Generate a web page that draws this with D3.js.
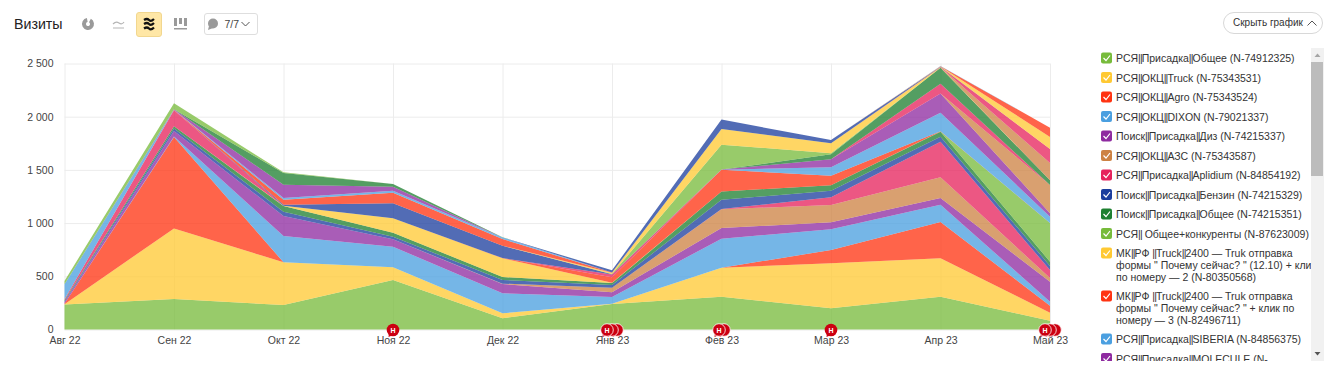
<!DOCTYPE html>
<html>
<head>
<meta charset="utf-8">
<script src="https://cdn.jsdelivr.net/npm/d3@7"></script>
<style>
  html, body { margin: 0; padding: 0; background: #fff; }
  svg { display: block; }
  text { font-family: "Liberation Sans", Arial, sans-serif; }
</style>
</head>
<body>
<svg id="chart" width="1340" height="378"></svg>
<script>
const months = ["Авг 22","Сен 22","Окт 22","Ноя 22","Дек 22","Янв 23","Фев 23","Мар 23","Апр 23","Май 23"];
const yTicks = [0,500,1000,1500,2000,2500];
const eventCounts = [0,0,0,1,0,3,2,1,0,3];

// values per stacked series, bottom to top, one number per month
const s01 = [235,287,230,465,105,240,308,199,308,83];
const s02 = [3,663,402,120,47,3,273,423,361,75];
const s03 = [3,860,0,0,0,0,0,125,341,66];
const s04 = [2,5,247,193,188,62,272,195,163,37];
const s05 = [15,50,188,70,88,45,101,65,63,188];
const s06 = [0,0,0,0,3,43,176,163,194,35];
const s07 = [0,0,0,0,0,0,2,73,335,75];
const s08 = [8,25,40,24,34,25,87,62,47,38];
const s09 = [8,20,53,38,28,18,78,50,47,40];
const s10 = [0,0,0,0,0,0,0,0,2,363];
const s11 = [0,0,3,135,176,4,0,0,0,0];
const s12 = [0,0,0,0,2,50,204,90,3,0];
const s13 = [0,0,0,0,0,0,1,79,172,60];
const s14 = [0,0,0,0,0,0,1,76,181,33];
const s15 = [0,0,0,0,0,0,0,0,0,265];
const s16 = [10,150,0,0,0,28,0,0,92,0];
const s17 = [0,0,10,141,116,2,0,0,0,0];
const s18 = [0,0,0,0,0,0,0,46,150,45];
const s19 = [0,0,0,0,0,2,234,10,0,0];
const s20 = [0,0,0,0,0,12,148,94,3,0];
const s21 = [0,2,47,99,63,1,0,0,0,0];
const s22 = [141,3,16,20,15,1,0,0,1,0];
const s23 = [0,5,125,37,0,0,0,0,0,0];
const s24 = [0,0,0,0,0,0,0,0,2,162];
const s25 = [0,0,0,0,0,0,0,0,2,131];
const s26 = [0,0,0,0,0,20,88,31,3,0];
const s27 = [0,1,110,25,1,0,0,0,0,0];
const s28 = [32,55,7,0,0,0,0,0,0,0];
const s29 = [0,0,0,0,0,0,0,0,2,114];
const s30 = [0,0,0,0,0,0,0,0,2,87];
const s31 = [0,0,0,0,0,0,0,0,3,0];
const allSeries = [s01,s02,s03,s04,s05,s06,s07,s08,s09,s10,s11,s12,s13,s14,s15,s16,s17,s18,s19,s20,s21,s22,s23,s24,s25,s26,s27,s28,s29,s30,s31];

const palette = ["#77bb3b","#ffc933","#ff3311","#4a9fe0","#8e2aa0","#cd8243","#e6225c","#1b3e9e","#1e8030"];

const legendLabels = [
  ["РСЯ||Присадка||Общее (N-74912325)"],
  ["РСЯ||ОКЦ||Truck (N-75343531)"],
  ["РСЯ||ОКЦ||Agro (N-75343524)"],
  ["РСЯ||ОКЦ||DIXON (N-79021337)"],
  ["Поиск||Присадка||Диз (N-74215337)"],
  ["РСЯ||ОКЦ||АЗС (N-75343587)"],
  ["РСЯ||Присадка||Aplidium (N-84854192)"],
  ["Поиск||Присадка||Бензин (N-74215329)"],
  ["Поиск||Присадка||Общее (N-74215351)"],
  ["РСЯ|| Общее+конкуренты (N-87623009)"],
  ["МК||РФ ||Truck||2400 — Truk отправка","формы \" Почему сейчас? \" (12.10) + клик","по номеру — 2 (N-80350568)"],
  ["МК||РФ ||Truck||2400 — Truk отправка","формы \" Почему сейчас? \" + клик по","номеру — 3 (N-82496711)"],
  ["РСЯ||Присадка||SIBERIA (N-84856375)"],
  ["РСЯ||Присадка||MOLECULE (N-"]
];

const svg = d3.select("#chart");

const x = d3.scalePoint().domain(months).range([64.5,1050]);
const y = d3.scaleLinear().domain([0,2500]).range([329.5,63.5]);

// grid + axes
const gridColor = "#ececec";
const yAxis = svg.append("g")
  .attr("transform","translate(64.5,0)")
  .call(d3.axisLeft(y).tickValues(yTicks).tickSize(-985.5).tickPadding(11)
    .tickFormat((d) => { return d >= 1000 ? d3.format(",")(d).replace(","," ") : d; }));
const xAxis = svg.append("g")
  .attr("transform","translate(0,329.5)")
  .call(d3.axisBottom(x).tickSize(-266).tickPadding(7));

[yAxis,xAxis].forEach((axis) => {
  axis.select(".domain").remove();
  axis.selectAll("line").attr("stroke",gridColor);
  axis.selectAll("text").attr("fill","#444").attr("font-size",10.5);
});

// stacked areas
const stack = d3.stack()
  .keys(d3.range(allSeries.length))
  .value((row,key) => { return allSeries[key][row]; });
const layers = stack(d3.range(months.length));

const area = d3.area()
  .x((d,i) => { return x(months[i]); })
  .y0((d) => { return y(d[0]); })
  .y1((d) => { return y(d[1]); });

svg.append("g").selectAll("path")
  .data(layers)
  .join("path")
  .attr("d",area)
  .attr("fill",(d,i) => { return palette[i % palette.length]; })
  .attr("fill-opacity",0.76);

// event markers under the axis line
const markers = svg.append("g");
months.forEach((month,i) => {
  const count = eventCounts[i];
  for(let n = count - 1; n >= 0; n--) {
    const cx = x(month) - (count - 1) * 2.5 + n * 5;
    markers.append("path")
      .attr("d",`M${cx - 4},${333} L${cx - 4.5},${337} L${cx},${335} Z`)
      .attr("fill","#cc0011");
    markers.append("circle")
      .attr("cx",cx).attr("cy",330).attr("r",6.3)
      .attr("fill","#cc0011")
      .attr("stroke","#fff").attr("stroke-width",count > 1 ? 0.8 : 0);
    if(n === 0) {
      markers.append("text")
        .attr("x",cx).attr("y",332.5)
        .attr("text-anchor","middle")
        .attr("font-size",7).attr("font-weight","bold")
        .attr("fill","#fff")
        .text("Н");
    }
  }
});

// toolbar
svg.append("text").attr("x",14).attr("y",29).attr("font-size",14.2).attr("fill","#222").text("Визиты");

const iconGrey = "#9a9a9a";
svg.append("path")
  .attr("d",d3.arc().innerRadius(2).outerRadius(6).startAngle(0.5).endAngle(6.1)())
  .attr("transform","translate(88,24)")
  .attr("fill",iconGrey);
svg.append("path").attr("d","M113,24 q3,-3 6,-1 t5,-1 M113,28 h11")
  .attr("fill","none").attr("stroke","#b5b5b5").attr("stroke-width",1.2);

svg.append("rect").attr("x",136.5).attr("y",12.5).attr("width",25).attr("height",24).attr("rx",2.5)
  .attr("fill","#ffe7a6").attr("stroke","#f2d78f");
svg.append("path").attr("d","M144,20 q3,-2 5,0 t5,-1 M144,24 q3,-2 5,0 t5,-1 M144,28.5 q3,-2 5,0 t5,-1")
  .attr("fill","none").attr("stroke","#111").attr("stroke-width",2.2);

svg.append("path").attr("d","M174,18 h3 v8 h-3 Z M179,18 h3 v6 h-3 Z M184,18 h3 v8 h-3 Z M174,28 h13 v1.5 h-13 Z")
  .attr("fill",iconGrey);

svg.append("rect").attr("x",204.5).attr("y",13.5).attr("width",53).attr("height",21).attr("rx",2.5)
  .attr("fill","#fff").attr("stroke","#dedede");
svg.append("circle").attr("cx",213).attr("cy",23.5).attr("r",5).attr("fill",iconGrey);
svg.append("path").attr("d","M209,26 L208,30 L213,28 Z").attr("fill",iconGrey);
svg.append("text").attr("x",224.5).attr("y",28).attr("font-size",10.5).attr("fill","#444").text("7/7");
svg.append("path").attr("d","M241.5,22 L245.5,26 L249.5,22").attr("fill","none").attr("stroke","#555");

// hide button
svg.append("rect").attr("x",1223.5).attr("y",12.5).attr("width",99).attr("height",21).attr("rx",10.5)
  .attr("fill","#fff").attr("stroke","#d8d8d8");
svg.append("text").attr("x",1233).attr("y",26).attr("font-size",10).attr("fill","#333").text("Скрыть график");
svg.append("path").attr("d","M1307.5,25.5 L1312,21 L1316.5,25.5").attr("fill","none").attr("stroke","#555");

// legend, clipped like the scrolling box
svg.append("clipPath").attr("id","legend-clip")
  .append("rect").attr("x",1095).attr("y",48).attr("width",216).attr("height",313);
const legend = svg.append("g").attr("clip-path","url(#legend-clip)");

let rowTop = 52;
legendLabels.forEach((lines,i) => {
  const row = legend.append("g").attr("transform",`translate(0,${rowTop})`);
  row.append("rect").attr("x",1101).attr("y",0.5).attr("width",11).attr("height",11).attr("rx",2)
    .attr("fill",palette[i % palette.length]);
  row.append("path").attr("d","M1103.5,6 L1106,8.5 L1110,3.5")
    .attr("fill","none").attr("stroke","#fff").attr("stroke-width",1.2);
  lines.forEach((line,k) => {
    const label = row.append("text").attr("x",1116).attr("y",10 + k * 12)
      .attr("font-size",10.5).attr("fill","#333");
    // the pipes sit tighter in the original, squeeze only those
    line.split(/(\|+)/).forEach((part) => {
      label.append("tspan")
        .attr("letter-spacing",part.startsWith("|") ? -0.9 : null)
        .text(part);
    });
  });
  rowTop += lines.length === 1 ? 19.5 : 43;
});

// scrollbar
svg.append("rect").attr("x",1311).attr("y",48).attr("width",13).attr("height",313).attr("fill","#f1f1f1");
svg.append("rect").attr("x",1311).attr("y",62).attr("width",12).attr("height",114).attr("fill","#bcbcbc");
svg.append("path").attr("d","M1314.5,57 L1317.5,53.5 L1320.5,57 Z").attr("fill","#a5a5a5");
svg.append("path").attr("d","M1314.5,352 L1317.5,355.5 L1320.5,352 Z").attr("fill","#555");
</script>
</body>
</html>
